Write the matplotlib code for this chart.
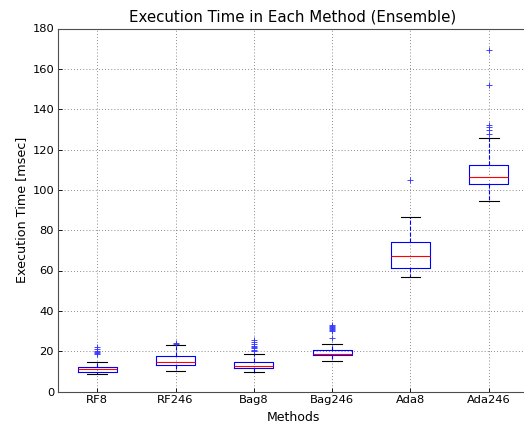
import matplotlib
matplotlib.use("Agg")
import matplotlib.pyplot as plt

# box statistics (msec)
methods = ["RF8", "RF246", "Bag8", "Bag246", "Ada8", "Ada246"]
q1 = [9.9, 12.9, 11.6, 17.9, 61.3, 102.9]
med = [11.1, 14.4, 12.8, 18.6, 67.0, 106.4]
q3 = [12.3, 17.4, 14.6, 20.4, 74.2, 112.4]
whislo = [8.9, 10.4, 9.9, 15.1, 56.8, 94.5]
whishi = [14.8, 23.0, 18.4, 23.7, 86.4, 125.6]
fliers = [
    [18.5, 19.0, 19.5, 20.0, 21.0, 22.0],
    [23.8, 24.2],
    [20.0, 20.8, 21.5, 22.0, 22.5, 23.5, 24.5, 25.5],
    [26.5, 30.0, 30.5, 31.0, 31.5, 32.0, 32.5, 33.0],
    [104.8],
    [127.5, 129.5, 131.0, 132.0, 152.0, 169.5],
]

stats = []
for i, name in enumerate(methods):
    stats.append({
        "label": name, "q1": q1[i], "med": med[i], "q3": q3[i],
        "whislo": whislo[i], "whishi": whishi[i], "fliers": fliers[i],
    })

fig = plt.figure(figsize=(524 / 80, 427 / 80), dpi=80)
ax = fig.add_axes([58 / 524, 35.5 / 427, 470 / 524, 363 / 427])

ax.bxp(
    stats,
    widths=0.5,
    boxprops=dict(color="blue", linewidth=1),
    medianprops=dict(color="red", linewidth=1),
    whiskerprops=dict(color="blue", linestyle="--", linewidth=1),
    capprops=dict(color="black", linewidth=1),
    flierprops=dict(marker="+", markeredgecolor="#3333ff", markersize=6,
                    markeredgewidth=0.8, linestyle="none"),
)

ax.set_xlim(0.5, 6.5)
ax.set_ylim(0, 180)
ax.set_yticks(range(0, 181, 20))
ax.grid(True, color="0.3", linestyle=(0, (1, 3)), linewidth=0.7)
ax.set_axisbelow(True)
ax.tick_params(direction="in", length=4, labelsize=10.3, top=False, right=False)
for sp in ax.spines.values():
    sp.set_linewidth(1)
    sp.set_color("0.3")

ax.set_title("Execution Time in Each Method (Ensemble)", fontsize=13.5)
ax.set_xlabel("Methods", fontsize=11.3, labelpad=5)
ax.set_ylabel("Execution Time [msec]", fontsize=11.5)

fig.savefig("out.png", dpi=80)
